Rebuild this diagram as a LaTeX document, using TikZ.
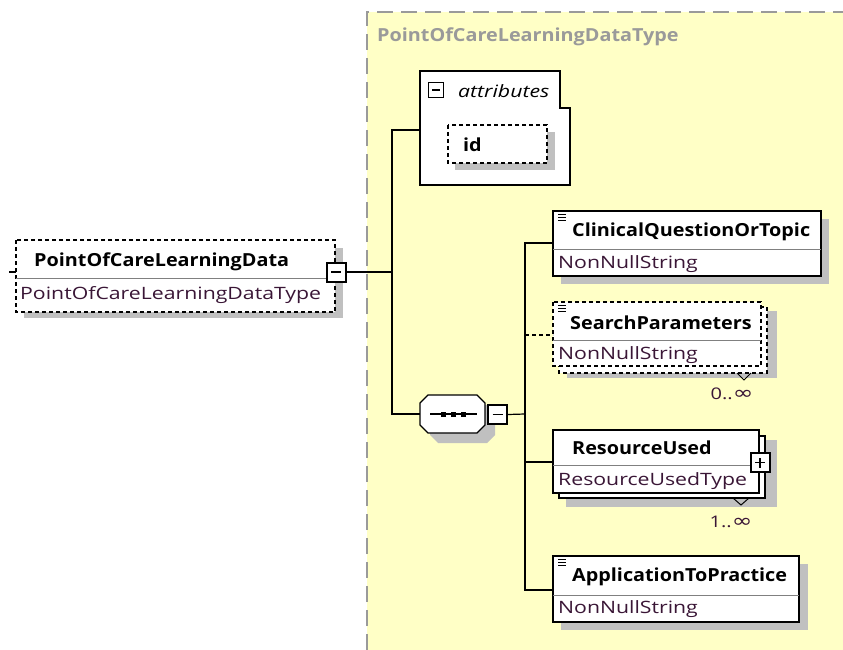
\documentclass[tikz,border=0pt]{standalone}
\usepackage{fontspec}
\setmainfont[FakeStretch=1.1]{Open Sans}
\newfontfamily\typefont[FakeStretch=1.25]{Open Sans}
\newfontfamily\symfont[FakeStretch=1.3]{DejaVu Sans}
\usetikzlibrary{positioning}

\definecolor{bgyellow}{HTML}{FFFFC6}
\definecolor{framegray}{HTML}{9A9A9A}
\definecolor{shadowgray}{HTML}{C0C0C0}
\definecolor{typecol}{HTML}{3A1636}

\tikzset{
  elem/.style={draw, line width=1.3pt, fill=white},
  optelem/.style={elem, dash pattern=on 4pt off 3pt},
  shade/.style={fill=shadowgray, draw=none},
  link/.style={line width=1.2pt},
  namelbl/.style={font=\bfseries\fontsize{18}{21}\selectfont, anchor=west, inner sep=0pt},
  typelbl/.style={font=\typefont\fontsize{17}{20}\selectfont, text=typecol, anchor=west, inner sep=0pt},
  multlbl/.style={font=\typefont\fontsize{16}{19}\selectfont, text=typecol, inner sep=0pt},
  togbox/.style={draw, line width=2pt, fill=white, minimum size=19pt, inner sep=0pt},
}

% minus toggle
\newcommand{\minustog}[2]{%
  \node[togbox] (#1) at (#2) {};
  \draw[line width=1.2pt] ([xshift=-5pt]#1.center) -- ([xshift=5pt]#1.center);}
% plus toggle
\newcommand{\plustog}[2]{%
  \node[togbox] (#1) at (#2) {};
  \draw[line width=1.2pt] ([xshift=-5pt]#1.center) -- ([xshift=5pt]#1.center)
    ([yshift=-5pt]#1.center) -- ([yshift=5pt]#1.center);}
% simple type icon
\newcommand{\texticon}[1]{%
  \draw[line width=1pt] (#1) -- ++(8,0) ++(-8,3) -- ++(8,0) ++(-8,3) -- ++(8,0);}

\begin{document}
\begin{tikzpicture}[x=1pt, y=-1pt, line cap=butt, line join=miter]
\useasboundingbox (0,0) rectangle (843,650);

% complex type frame
\fill[bgyellow] (367,12) rectangle (843,650);
\draw[framegray, line width=1.3pt, dash pattern=on 16pt off 8pt] (367,650) -- (367,12) -- (843,12);
\node[font=\bfseries\fontsize{18}{21}\selectfont, text=framegray, anchor=west, inner sep=0pt]
  (ctype) at (377,37) {PointOfCareLearningDataType};

% root element
\fill[shade] (24,248) rectangle (343,318);
\draw[optelem] (16,240) rectangle (335,312);
\draw[line width=0.6pt, gray] (16,278) -- (335,278);
\draw[line width=1.3pt] (9,272) -- (16,272);
\node[namelbl] (root) at (34,262) {PointOfCareLearningData};
\node[typelbl] (roottype) at (20,295) {PointOfCareLearningDataType};
\minustog{roottog}{336,272}

% attributes
\draw[elem] (420,71) -- (560,71) -- (560,108) -- (570,108) -- (570,185) -- (420,185) -- cycle;
\coordinate (attin) at (420,130);
\node[draw, line width=1.6pt, fill=white, minimum size=15pt, inner sep=0pt] (atttog) at (436,90) {};
\draw[line width=1.1pt] ([xshift=-4pt]atttog.center) -- ([xshift=4pt]atttog.center);
\node[font=\typefont\itshape\fontsize{17}{20}\selectfont, anchor=west, inner sep=0pt] (attlbl) at (458,91) {attributes};
\fill[shade] (455,132) rectangle (555,170);
\draw[optelem] (448,125) rectangle (547,163);
\node[namelbl] (idattr) at (463,145) {id};

% sequence compositor
\fill[shade] (438,405) -- (487,405) -- (495,413) -- (495,435) -- (487,443) -- (438,443) -- (430,435) -- (430,413) -- cycle;
\draw[elem] (428,395) -- (477,395) -- (485,403) -- (485,425) -- (477,433) -- (428,433) -- (420,425) -- (420,403) -- cycle;
\coordinate (seqin) at (420,414);
\draw[line width=1.2pt] (430,414) -- (477,414);
\foreach \dx in {443,453,463}
  \fill (\dx-2.5,411.5) rectangle (\dx+2.5,416.5);
\minustog{seqtog}{497.5,414.5}

% ClinicalQuestionOrTopic
\fill[shade] (561,219) rectangle (829,284);
\draw[elem] (553,211) rectangle (821,276);
\draw[line width=0.6pt, gray] (553,249) -- (821,249);
\coordinate (clinin) at (553,243);
\texticon{558,214}
\node[namelbl] (clin) at (572,232) {ClinicalQuestionOrTopic};
\node[typelbl] (clintype) at (558,264) {NonNullString};

% SearchParameters (0..unbounded)
\fill[shade] (567,311) rectangle (777,378);
\draw[optelem] (559,307) rectangle (767,373);
\draw[optelem] (553,302) rectangle (761,366);
\draw[line width=0.6pt, gray] (553,340) -- (761,340);
\coordinate (srchin) at (553,335);
\texticon{558,305}
\node[namelbl] (srch) at (570,323) {SearchParameters};
\node[typelbl] (srchtype) at (558,355) {NonNullString};
\draw[line width=1pt] (737,373) -- (744,380) -- (751,373);
\node[multlbl] (srchmult) at (732,394) {0..{\symfont\fontsize{19}{20}\selectfont ∞}};

% ResourceUsed (1..unbounded)
\fill[shade] (566,440) rectangle (777,507);
\draw[elem] (559,436) rectangle (765,498);
\draw[elem] (553,430) rectangle (759,493);
\draw[line width=0.6pt, gray] (553,465) -- (759,465);
\coordinate (resin) at (553,462);
\node[namelbl] (res) at (572,448) {ResourceUsed};
\node[typelbl] (restype) at (558,481) {ResourceUsedType};
\plustog{restog}{760,462.5}
\draw[line width=1pt] (733,498) -- (741,505) -- (749,498);
\node[multlbl] (resmult) at (731,522) {1..{\symfont\fontsize{19}{20}\selectfont ∞}};

% ApplicationToPractice
\fill[shade] (561,564) rectangle (808,630);
\draw[elem] (553,556) rectangle (799,622);
\draw[line width=0.6pt, gray] (553,595) -- (799,595);
\coordinate (appin) at (553,590);
\texticon{558,559}
\node[namelbl] (app) at (572,577) {ApplicationToPractice};
\node[typelbl] (apptype) at (558,609) {NonNullString};

% connectors
\coordinate (bus1) at (392,272);
\coordinate (bus2) at (525,414);
\draw[link] (roottog.east) -- (bus1);
\draw[link] (attin) -| (bus1) |- (seqin);
\draw[link] (seqtog.east) -- (bus2);
\draw[link] (clinin) -| (bus2) |- (appin);
\draw[link] (bus2) |- (resin);
\draw[link, dash pattern=on 4pt off 3pt] (bus2 |- srchin) -- (srchin);

\end{tikzpicture}
\end{document}
